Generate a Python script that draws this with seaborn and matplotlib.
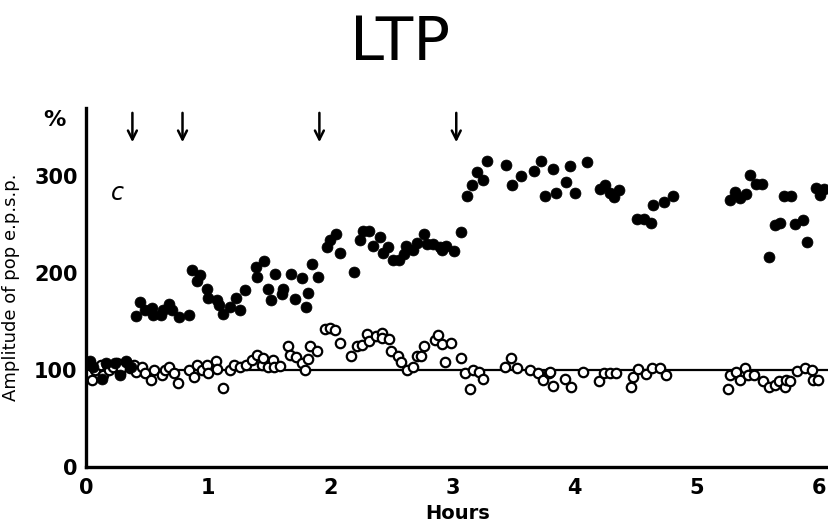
import pandas as pd
import matplotlib
matplotlib.use("Agg")
import matplotlib.pyplot as plt
import seaborn as sns

# Tetanised pathway (filled circles): hours, amplitude in % of baseline
filled_hours = [0.03, 0.06, 0.13, 0.16, 0.24, 0.28, 0.33, 0.37,
                0.41, 0.44, 0.48, 0.54, 0.55, 0.61, 0.63, 0.68, 0.70, 0.76, 0.84,
                0.87, 0.91, 0.93, 0.99, 1.00, 1.07, 1.09, 1.12, 1.18, 1.23, 1.26, 1.30,
                1.39, 1.40, 1.46, 1.49, 1.51, 1.55, 1.60, 1.61, 1.68, 1.71, 1.77, 1.80,
                1.82, 1.85, 1.90,
                1.97, 2.00, 2.05, 2.08, 2.19, 2.24, 2.27, 2.32, 2.35, 2.41, 2.43, 2.47,
                2.51, 2.56, 2.60, 2.62, 2.68, 2.71, 2.77, 2.79, 2.84, 2.90, 2.91, 2.95,
                3.01, 3.07,
                3.12, 3.16, 3.20, 3.25, 3.28, 3.44, 3.49, 3.56, 3.67, 3.72, 3.76, 3.82,
                3.85, 3.93, 3.96, 4.00, 4.10, 4.21, 4.25, 4.29, 4.32, 4.36, 4.51, 4.57,
                4.62, 4.64, 4.73, 4.80, 5.27, 5.31, 5.35, 5.40, 5.43, 5.48, 5.53, 5.59,
                5.64, 5.68, 5.71, 5.77, 5.80, 5.87, 5.90, 5.97, 6.01, 6.04]
filled_amp = [109, 103, 91, 107, 107, 95, 109, 103,
              156, 170, 162, 164, 157, 157, 162, 168, 162, 155, 157,
              203, 192, 198, 184, 174, 172, 167, 158, 165, 174, 162, 183,
              206, 196, 212, 184, 172, 199, 178, 184, 199, 173, 195, 165,
              179, 209, 196,
              227, 234, 240, 221, 201, 234, 243, 243, 228, 237, 221, 227,
              213, 213, 220, 228, 224, 231, 240, 230, 230, 227, 224, 228,
              223, 242,
              279, 291, 304, 296, 316, 311, 291, 300, 305, 315, 279, 307,
              283, 294, 310, 282, 314, 287, 291, 282, 278, 286, 256, 256,
              252, 270, 273, 279, 275, 284, 277, 281, 301, 292, 292, 217,
              249, 252, 279, 279, 251, 255, 232, 288, 280, 287]

# Control pathway (open circles)
open_hours = [0.03, 0.05, 0.07, 0.12, 0.14, 0.17, 0.19, 0.22, 0.25, 0.28, 0.29, 0.33,
              0.36, 0.39, 0.41, 0.46, 0.48, 0.53, 0.56, 0.62, 0.65, 0.68, 0.72, 0.75,
              0.84, 0.88, 0.91, 0.95, 0.99, 1.00, 1.06, 1.07, 1.12, 1.18, 1.21, 1.26,
              1.31, 1.36, 1.40, 1.44, 1.45, 1.49, 1.53, 1.54, 1.59, 1.65, 1.67, 1.72,
              1.77, 1.79, 1.82, 1.83, 1.89, 1.96,
              2.00, 2.04, 2.08, 2.17, 2.22, 2.26, 2.30, 2.32, 2.37, 2.42, 2.42, 2.48,
              2.50, 2.55, 2.58, 2.63, 2.68, 2.71, 2.74, 2.77, 2.86, 2.88, 2.91, 2.94,
              2.99, 3.07, 3.10, 3.14, 3.17, 3.22, 3.25, 3.43, 3.48, 3.53, 3.63, 3.70,
              3.74, 3.79, 3.80, 3.82, 3.92, 3.97, 4.07, 4.20, 4.24, 4.29, 4.34, 4.46,
              4.48, 4.52, 4.58, 4.63, 4.70, 4.75, 5.25, 5.27, 5.32, 5.35, 5.39, 5.42,
              5.47, 5.54, 5.59, 5.64, 5.67, 5.72, 5.73, 5.76, 5.82, 5.88, 5.94, 5.95,
              5.99]
open_amp = [107, 90, 100, 105, 95, 105, 100, 103, 107, 97, 102, 108,
            102, 105, 98, 103, 97, 90, 100, 95, 100, 103, 97, 87,
            100, 93, 105, 100, 105, 97, 109, 101, 81, 100, 105, 103,
            105, 110, 115, 105, 112, 103, 110, 103, 104, 125, 115, 113,
            107, 100, 111, 125, 120, 142,
            143, 141, 128, 114, 125, 126, 137, 130, 135, 138, 133, 132,
            120, 114, 108, 100, 103, 114, 114, 125, 131, 136, 127, 108,
            128, 112, 97, 80, 100, 98, 91, 103, 112, 102, 100, 97,
            90, 97, 98, 84, 91, 82, 98, 89, 97, 97, 97, 82,
            93, 101, 96, 102, 102, 95, 80, 95, 98, 90, 102, 95,
            95, 89, 82, 85, 89, 82, 90, 89, 99, 102, 100, 90,
            90]

# Tetanus times (arrows)
tetanus_hours = [0.38, 0.79, 1.91, 3.03]

df_filled = pd.DataFrame({"Hours": filled_hours, "Amp": filled_amp})
df_open = pd.DataFrame({"Hours": open_hours, "Amp": open_amp})

sns.set_theme(style="white")
plt.rcParams["font.family"] = ["DejaVu Sans"]
plt.rcParams["text.color"] = "black"
plt.rcParams["axes.labelcolor"] = "black"

fig = plt.figure(figsize=(8.29, 5.25), dpi=100)
ax = fig.add_axes([0.1037, 0.1105, 0.8963, 0.6835])

# baseline at 100 %
ax.axhline(100, color="black", lw=1.6, zorder=1)

sns.scatterplot(data=df_open, x="Hours", y="Amp", ax=ax, marker="o",
                s=46, facecolor="white", edgecolor="black", linewidth=1.6, zorder=2)
sns.scatterplot(data=df_filled, x="Hours", y="Amp", ax=ax, marker="o",
                s=62, color="black", edgecolor="black", linewidth=0.5, zorder=3)

# arrows marking each tetanus
for t in tetanus_hours:
    ax.annotate("", xy=(t, 332), xytext=(t, 368),
                arrowprops=dict(arrowstyle="->", color="black", lw=1.8,
                                mutation_scale=16))

ax.set_xlim(0, 6.08)
ax.set_ylim(0, 370)
ax.set_xticks([0, 1, 2, 3, 4, 5, 6])
ax.set_yticks([0, 100, 200, 300])
ax.tick_params(axis="both", direction="in", length=8, width=2, labelsize=15,
               colors="black")
ax.tick_params(axis="x", pad=8)
ax.tick_params(axis="y", pad=6)
for lbl in ax.get_xticklabels() + ax.get_yticklabels():
    lbl.set_fontweight("semibold")

for side in ["top", "right"]:
    ax.spines[side].set_visible(False)
for side in ["left", "bottom"]:
    ax.spines[side].set_linewidth(2.4)
    ax.spines[side].set_color("black")

ax.set_xlabel("Hours", fontsize=14, fontweight="semibold", labelpad=4)
ax.set_ylabel("Amplitude of pop e.p.s.p.", fontsize=13, labelpad=10)
ax.text(-0.028, 358, "%", fontsize=16, fontweight="semibold", ha="right",
        va="center", transform=ax.get_yaxis_transform())
ax.text(0.26, 282, "c", fontsize=17, style="italic", ha="center", va="center")

fig.text(0.483, 1 - 60 / 525, "LTP", fontsize=44, ha="center", va="baseline")

fig.savefig("out.png", dpi=100)
